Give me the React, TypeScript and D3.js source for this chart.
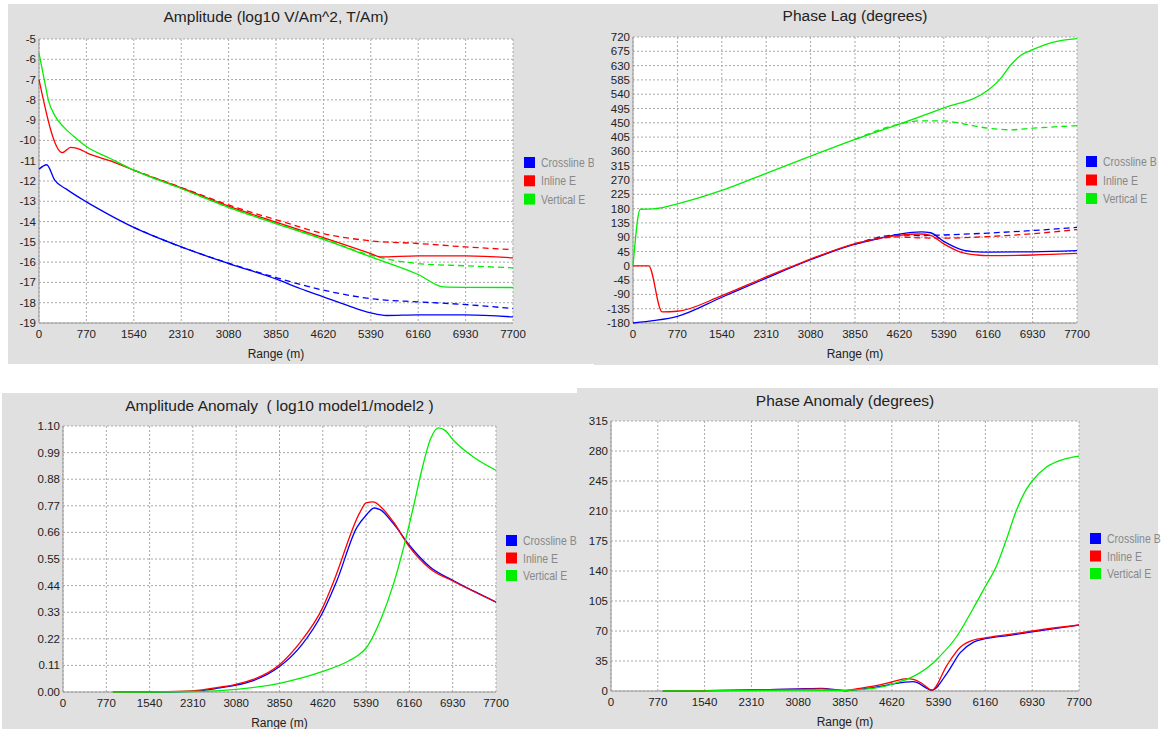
import React, { useEffect, useRef } from 'react';
import * as d3 from 'd3';

type Pt = [number, number];

// x axis (range in metres), shared by all four panels
const rangeTicks = [0, 770, 1540, 2310, 3080, 3850, 4620, 5390, 6160, 6930, 7700];
const seriesNames = ['Crossline B', 'Inline E', 'Vertical E'];
const seriesColors = ['#0000ff', '#ff0000', '#00ee00'];

// Amplitude (log10)
const ampTicks = [-5, -6, -7, -8, -9, -10, -11, -12, -13, -14, -15, -16, -17, -18, -19];
const ampCrossB: Pt[] = [[0, -11.42], [125, -11.2], [255, -11.96], [445, -12.4], [770, -13.03], [1150, -13.68], [1540, -14.29], [2310, -15.25], [3080, -16.07], [3850, -16.83], [4240, -17.3], [4620, -17.71], [5000, -18.12], [5390, -18.5], [5645, -18.63], [6160, -18.6], [6930, -18.6], [7700, -18.7]];
const ampCrossBDash: Pt[] = [[1540, -14.29], [2310, -15.25], [3080, -16.05], [3850, -16.76], [4620, -17.38], [5390, -17.8], [6160, -17.96], [6930, -18.09], [7700, -18.29]];
const ampInlineE: Pt[] = [[0, -7.0], [379, -10.6], [514, -10.34], [667, -10.44], [770, -10.6], [1150, -11.0], [1540, -11.47], [2310, -12.34], [3080, -13.24], [3850, -14.03], [4620, -14.79], [5390, -15.58], [5540, -15.74], [6160, -15.69], [6930, -15.69], [7700, -15.79]];
const ampInlineEDash: Pt[] = [[1540, -11.47], [2310, -12.32], [3080, -13.18], [3930, -13.98], [4620, -14.59], [5390, -14.95], [6160, -15.08], [6930, -15.25], [7700, -15.38]];
const ampVertE: Pt[] = [[0, -5.7], [97, -7.18], [151, -8.0], [260, -8.79], [395, -9.32], [558, -9.78], [770, -10.3], [1150, -10.88], [1540, -11.46], [2310, -12.37], [3080, -13.3], [3850, -14.1], [4620, -14.88], [5390, -15.74], [6160, -16.61], [6570, -17.22], [6930, -17.24], [7700, -17.25]];
const ampVertEDash: Pt[] = [[1540, -11.46], [2310, -12.37], [3080, -13.3], [3850, -14.08], [4620, -14.85], [5390, -15.66], [6160, -16.07], [6930, -16.18], [7700, -16.28]];

// Phase lag (degrees)
const phaseTicks = [-180, -135, -90, -45, 0, 45, 90, 135, 180, 225, 270, 315, 360, 405, 450, 495, 540, 585, 630, 675, 720];
const phaseCrossB: Pt[] = [[0, -180], [385, -172], [770, -159], [1540, -99], [2310, -39], [3080, 19], [3850, 68], [4290, 87], [4620, 100], [5000, 107], [5158, 104], [5390, 77], [5680, 52], [5967, 44], [6160, 43], [6930, 44], [7700, 48]];
const phaseCrossBDash: Pt[] = [[3850, 68], [4620, 98], [5000, 95], [5390, 97], [6160, 103], [6930, 111], [7700, 121]];
const phaseInlineE: Pt[] = [[0, 0], [272, 0], [504, -145], [770, -143], [1540, -94], [2310, -35], [3080, 21], [3850, 70], [4620, 96], [4980, 100], [5158, 96], [5390, 69], [5680, 43], [5967, 34], [6160, 32], [6930, 34], [7700, 39]];
const phaseInlineEDash: Pt[] = [[3850, 70], [4620, 91], [4985, 88], [5390, 87], [6160, 92], [6930, 101], [7700, 114]];
const phaseVertE: Pt[] = [[0, 0], [127, 178], [359, 179], [770, 195], [1540, 237], [2310, 291], [3080, 345], [3850, 398], [4620, 446], [5390, 497], [6160, 553], [6374, 589], [6548, 631], [6721, 662], [6930, 680], [7295, 704], [7700, 715]];
const phaseVertEDash: Pt[] = [[3850, 398], [4620, 446], [4985, 456], [5390, 456], [5680, 448], [6160, 433], [6548, 428], [6930, 433], [7700, 441]];

// Amplitude anomaly (log10 model1/model2)
const anomTicks = [0, 0.11, 0.22, 0.33, 0.44, 0.55, 0.66, 0.77, 0.88, 0.99, 1.1];
const anomCrossB: Pt[] = [[888, 0], [1540, 0], [2310, 0.003], [2792, 0.017], [3080, 0.028], [3384, 0.047], [3850, 0.105], [4246, 0.195], [4620, 0.33], [4870, 0.46], [5224, 0.68], [5390, 0.731], [5532, 0.761], [5639, 0.754], [5876, 0.696], [6160, 0.607], [6527, 0.517], [6930, 0.462], [7297, 0.418], [7700, 0.372]];
const anomInlineE: Pt[] = [[888, 0], [1540, 0.001], [2310, 0.005], [2792, 0.02], [3080, 0.032], [3384, 0.052], [3850, 0.113], [4217, 0.205], [4620, 0.35], [4810, 0.455], [5283, 0.744], [5390, 0.782], [5520, 0.786], [5639, 0.768], [5876, 0.703], [6160, 0.6], [6527, 0.51], [6930, 0.459], [7700, 0.372]];
const anomVertE: Pt[] = [[888, 0], [1540, 0], [2310, 0.002], [2792, 0.006], [3850, 0.036], [4620, 0.085], [5060, 0.126], [5250, 0.152], [5390, 0.182], [5645, 0.297], [5882, 0.45], [6060, 0.6], [6231, 0.765], [6379, 0.917], [6539, 1.048], [6675, 1.092], [6793, 1.082], [6942, 1.041], [7297, 0.972], [7700, 0.917]];

// Phase anomaly (degrees)
const panomTicks = [0, 35, 70, 105, 140, 175, 210, 245, 280, 315];
const panomCrossB: Pt[] = [[852, 0], [1540, 0.3], [2310, 1], [3080, 2.5], [3465, 3.1], [3850, 0.5], [4087, 2], [4474, 6], [4620, 8], [4975, 11], [5030, 10], [5280, 1], [5527, 20.6], [5746, 44.7], [5966, 57], [6160, 61], [6559, 65], [6930, 69], [7700, 77]];
const panomInlineE: Pt[] = [[852, 0], [1540, 0.4], [2310, 1.2], [3080, 2], [3465, 2.5], [3850, 0.5], [4087, 3], [4474, 8], [4620, 10.5], [4865, 14.4], [4975, 13.6], [5112, 9], [5280, 1], [5527, 30], [5746, 51], [5966, 59.5], [6160, 62], [6559, 66], [6930, 70], [7700, 77]];
const panomVertE: Pt[] = [[852, 0], [1540, 0.2], [2310, 0.5], [3080, 1], [3850, 0.8], [4087, 1.5], [4474, 5], [4620, 8], [4975, 17], [5304, 33], [5390, 39], [5683, 63], [5957, 96], [6160, 122], [6337, 145], [6502, 176], [6666, 210], [6831, 235], [6930, 245], [7160, 261], [7434, 270], [7700, 274]];

const FONT = '"Liberation Sans", Arial, Helvetica, sans-serif';

const panels = [
    {
        title: 'Amplitude (log10 V/Am^2, T/Am)', bg: [8, 4, 594, 364], plot: [39, 39, 513, 323], titleY: 22,
        yTicks: ampTicks, fmt: (d: number) => String(d),
        solid: [ampCrossB, ampInlineE, ampVertE], dashed: [ampCrossBDash, ampInlineEDash, ampVertEDash],
        legend: [524, 157, 18.3]
    },
    {
        title: 'Phase Lag (degrees)', bg: [594, 4, 1158, 365], plot: [633, 37, 1077, 323], titleY: 21,
        yTicks: phaseTicks, fmt: (d: number) => String(d),
        solid: [phaseCrossB, phaseInlineE, phaseVertE], dashed: [phaseCrossBDash, phaseInlineEDash, phaseVertEDash],
        legend: [1086, 156, 18.5]
    },
    {
        title: 'Amplitude Anomaly\u00a0\u00a0( log10 model1/model2 )', bg: [2, 393, 578, 729], plot: [63, 426, 496, 692], titleY: 411,
        yTicks: anomTicks, fmt: d3.format('.2f'),
        solid: [anomCrossB, anomInlineE, anomVertE], dashed: [],
        legend: [506, 535, 17.5]
    },
    {
        title: 'Phase Anomaly (degrees)', bg: [577, 388, 1158, 729], plot: [611, 421, 1079, 691], titleY: 406,
        yTicks: panomTicks, fmt: (d: number) => String(d),
        solid: [panomCrossB, panomInlineE, panomVertE], dashed: [],
        legend: [1090, 533, 17.5]
    }
];

const App = () => {
    const svgRef = useRef<SVGSVGElement>(null);

    useEffect(() => {
        const svg = d3.select(svgRef.current);
        svg.selectAll('*').remove();
        svg.style('font-family', FONT);

        panels.forEach(p => {
            const [bx0, by0, bx1, by1] = p.bg;
            const [l, t, r, b] = p.plot;
            const g = svg.append('g');

            g.append('rect').attr('x', bx0).attr('y', by0).attr('width', bx1 - bx0).attr('height', by1 - by0)
                .attr('fill', '#e0e0e0');
            g.append('rect').attr('x', l).attr('y', t).attr('width', r - l).attr('height', b - t).attr('fill', '#fff');

            const x = d3.scaleLinear().domain([0, 7700]).range([l, r]);
            const yExt = d3.extent(p.yTicks) as [number, number];
            const y = d3.scaleLinear().domain(yExt).range([b, t]);

            // dashed grid
            g.selectAll('.vgrid').data(rangeTicks).enter().append('line')
                .attr('x1', d => x(d)).attr('x2', d => x(d)).attr('y1', t).attr('y2', b)
                .attr('stroke', '#a8a8a8').attr('stroke-dasharray', '2,2');
            g.selectAll('.hgrid').data(p.yTicks).enter().append('line')
                .attr('x1', l).attr('x2', r).attr('y1', d => y(d)).attr('y2', d => y(d))
                .attr('stroke', '#a8a8a8').attr('stroke-dasharray', '2,2');

            // axes
            g.append('line').attr('x1', l).attr('x2', l).attr('y1', t).attr('y2', b).attr('stroke', '#999');
            g.append('line').attr('x1', l).attr('x2', r).attr('y1', b).attr('y2', b).attr('stroke', '#999');

            g.selectAll('.ylab').data(p.yTicks).enter().append('text')
                .attr('x', l - 3).attr('y', d => y(d) + 4)
                .attr('text-anchor', 'end').attr('font-size', 11.5).attr('fill', '#222')
                .text(d => p.fmt(d));
            g.selectAll('.xlab').data(rangeTicks).enter().append('text')
                .attr('x', d => x(d)).attr('y', b + 15)
                .attr('text-anchor', 'middle').attr('font-size', 11.5).attr('fill', '#222')
                .text(d => String(d));

            g.append('text').attr('x', (l + r) / 2).attr('y', b + 35)
                .attr('text-anchor', 'middle').attr('font-size', 12).attr('fill', '#222')
                .text('Range (m)');
            g.append('text').attr('x', (l + r) / 2).attr('y', p.titleY)
                .attr('text-anchor', 'middle').attr('font-size', 15.5).attr('fill', '#222')
                .text(p.title);

            const line = d3.line<Pt>().x(d => x(d[0])).y(d => y(d[1])).curve(d3.curveMonotoneX);

            p.dashed.forEach((s, i) => {
                g.append('path').attr('d', line(s)).attr('fill', 'none')
                    .attr('stroke', seriesColors[i]).attr('stroke-width', 1.3).attr('stroke-dasharray', '6,4');
            });
            p.solid.forEach((s, i) => {
                g.append('path').attr('d', line(s)).attr('fill', 'none')
                    .attr('stroke', seriesColors[i]).attr('stroke-width', 1.3);
            });

            // legend
            const [lx, ly, step] = p.legend;
            seriesNames.forEach((name, i) => {
                g.append('rect').attr('x', lx).attr('y', ly + i * step).attr('width', 11).attr('height', 11)
                    .attr('fill', seriesColors[i]);
                g.append('text')
                    .attr('transform', `translate(${lx + 17},${ly + i * step + 10}) scale(0.84,1)`)
                    .attr('font-size', 12.5).attr('fill', '#888')
                    .text(name);
            });
        });
    }, []);

    return (
        <svg ref={svgRef} width={1164} height={729} style={{ position: 'absolute', left: 0, top: 0 }}></svg>
    );
};

export default App;
